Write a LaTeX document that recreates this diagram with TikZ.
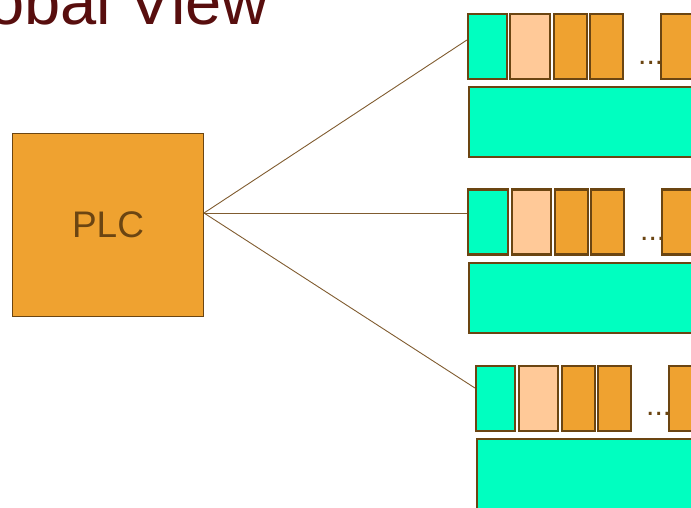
\documentclass[tikz,border=0pt]{standalone}
\usepackage{fontspec}
\setmainfont{Liberation Sans}

\definecolor{trame}{RGB}{0,255,192}
\definecolor{peche}{RGB}{255,201,152}
\definecolor{orangeplc}{RGB}{239,162,48}
\definecolor{brun}{RGB}{107,69,18}
\definecolor{lien}{RGB}{128,92,48}
\definecolor{titre}{RGB}{88,14,14}

\tikzset{
    cellule/.style={draw=brun, line width=2.2pt, inner sep=0pt, minimum height=65pt},
    entete/.style={cellule, fill=trame},
    donnee/.style={cellule, fill=peche},
    mot/.style={cellule, fill=orangeplc, minimum width=33pt},
    bloc/.style={cellule, fill=trame, anchor=west, minimum width=300pt, minimum height=70pt},
    points/.style={anchor=base west, inner sep=0pt, text=brun, font=\fontsize{30}{32}\selectfont},
    lien/.style={draw=lien, line width=0.9pt}
}

\begin{document}
\begin{tikzpicture}[x=1pt, y=1pt]
    \useasboundingbox (0,0) rectangle (691,-507);
    \clip (0,0) rectangle (691,-507);

    % Titre
    \node[anchor=base east, inner sep=0pt, text=titre, font=\fontsize{65}{70}\selectfont] (titre) at (269,-24) {Global View};

    % Automate
    \node[draw=brun, line width=1pt, fill=orangeplc, text=brun, minimum width=191pt, minimum height=183pt,
          font=\fontsize{37}{40}\selectfont] (plc) at (108,-225) {PLC};
    \coordinate (hub) at ([yshift=12pt]plc.east);

    % Trame 1
    \node[entete, minimum width=39pt] (c1) at (487.5,-46.5) {};
    \node[donnee, minimum width=40pt] (p1) at (530,-46.5) {};
    \node[mot] (m1a) at (570.5,-46.5) {};
    \node[mot] (m1b) at (606.5,-46.5) {};
    \node[points] (d1) at (638,-64) {...};
    \node[mot, anchor=west, minimum width=60pt] (m1c) at (660,-46.5) {};
    \node[bloc] (b1) at (468,-122) {};

    % Trame 2
    \node[entete, minimum width=40pt] (c2) at (488,-222) {};
    \node[donnee, minimum width=39pt] (p2) at (531.5,-222) {};
    \node[mot] (m2a) at (571.5,-222) {};
    \node[mot] (m2b) at (607.5,-222) {};
    \node[points] (d2) at (640,-240) {...};
    \node[mot, anchor=west, minimum width=60pt] (m2c) at (661,-222) {};
    \node[bloc] (b2) at (468,-298) {};

    % Trame 3
    \node[entete, minimum width=39pt] (c3) at (495.5,-398.5) {};
    \node[donnee, minimum width=39pt] (p3) at (538.5,-398.5) {};
    \node[mot] (m3a) at (578.5,-398.5) {};
    \node[mot] (m3b) at (614.5,-398.5) {};
    \node[points] (d3) at (646,-415.5) {...};
    \node[mot, anchor=west, minimum width=60pt] (m3c) at (668,-398.5) {};
    \node[bloc] (b3) at (476,-474) {};

    % Liaisons
    \draw[lien] (hub) -- ([yshift=6.5pt]c1.west);
    \draw[lien] (hub) -- ([yshift=9pt]c2.west);
    \draw[lien] (hub) -- ([yshift=10.5pt]c3.west);

\end{tikzpicture}
\end{document}
